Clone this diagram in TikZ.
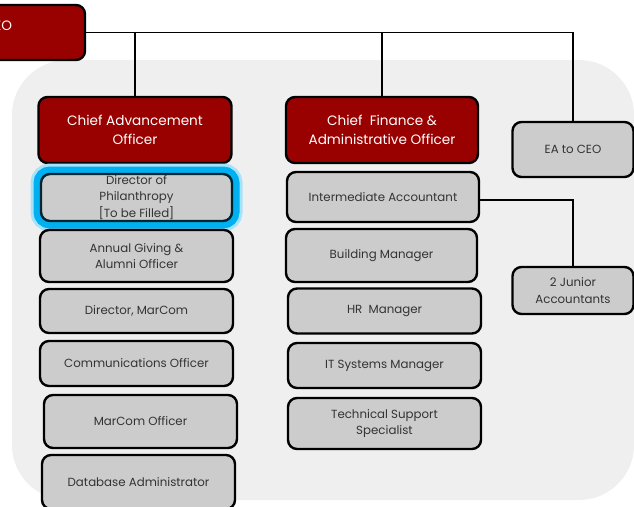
\documentclass[tikz,border=0pt]{standalone}
\usepackage{fontspec}
\setmainfont{Poppins}
\usetikzlibrary{positioning}
\definecolor{chiefred}{HTML}{990000}
\definecolor{boxgray}{HTML}{CCCCCC}
\definecolor{panelgray}{HTML}{EFEFEF}
\definecolor{labelgray}{HTML}{333333}
\definecolor{glowblue}{HTML}{00B0F0}
\begin{document}
\begin{tikzpicture}[
  x=1pt, y=-1pt,
  staff/.style={rectangle, draw, rounded corners=9pt, line width=2.4pt, fill=boxgray,
    text=labelgray, align=center, minimum width=193pt, minimum height=45pt,
    inner sep=0pt, font=\fontsize{11.8}{16.5}\selectfont},
  chief/.style={staff, fill=chiefred, text=white, minimum height=66pt,
    font=\fontsize{13.6}{19}\selectfont},
  glow/.style={draw=black!80!glowblue,
    preaction={draw=glowblue!35, line width=21pt},
    preaction={draw=glowblue, line width=15pt}},
  link/.style={line width=1.6pt}
]
\useasboundingbox (0,0) rectangle (634,506);
\fill[panelgray, rounded corners=55pt] (12,60) rectangle (634,500);

% top level
\node[chief, minimum width=174pt, minimum height=55pt] (ceo) at (-2,32.5) {\raisebox{14pt}{CEO}};
\node[chief] (cao) at (135,130) {Chief Advancement\\Officer};
\node[chief, minimum width=192pt] (cfao) at (382,130) {Chief~ Finance \&\\Administrative Officer};
\node[staff, minimum width=121pt, minimum height=55pt] (ea) at (573,149.5) {EA to CEO};

% advancement column
\node[staff, glow, minimum width=191pt, minimum height=47pt] (phil) at (136.5,197.5) {Director of\\Philanthropy\\{}[To be Filled]};
\node[staff, minimum height=52pt] (giving) at (136.5,256) {Annual Giving \&\\Alumni Officer};
\node[staff, minimum height=44pt] (dirmc) at (136.5,311) {Director, MarCom};
\node[staff] (comms) at (136.5,363.5) {Communications Officer};
\node[staff, minimum height=53pt] (mcoff) at (140.5,421.5) {MarCom Officer};
\node[staff, minimum height=54pt] (dba) at (138.5,482) {Database Administrator};

% finance column
\node[staff, minimum width=192pt, minimum height=50pt] (acct) at (383,197) {Intermediate Accountant};
\node[staff, minimum width=191pt, minimum height=53pt] (bldg) at (381.5,255.5) {Building Manager};
\node[staff] (hr) at (384.5,311) {HR~ Manager};
\node[staff] (it) at (384.5,365.5) {IT Systems Manager};
\node[staff, minimum height=51pt] (tech) at (384.5,423.5) {Technical Support\\Specialist};
\node[staff, minimum width=121pt, minimum height=47pt] (junior) at (573,290.5) {2 Junior\\Accountants};

\draw[link] (ceo.east) -| (ea.north);
\draw[link] (ceo.east -| cao.north) -- (cao.north);
\draw[link] (ceo.east -| cfao.north) -- (cfao.north);
\draw[link] ([yshift=-3pt]acct.east) -| (junior.north);
\end{tikzpicture}
\end{document}
